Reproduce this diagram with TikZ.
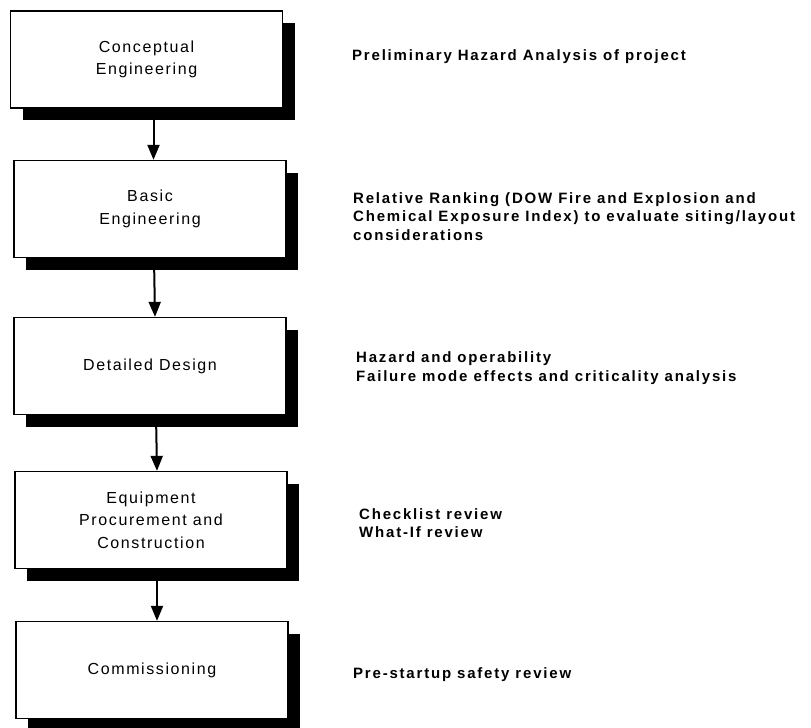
\documentclass[tikz,border=0pt]{standalone}
\usepackage{fontspec}
\usepackage{tikz}
\usetikzlibrary{shadows,arrows.meta}
\newfontfamily\stagefont[LetterSpace=10]{Liberation Sans}
\newfontfamily\notefont[LetterSpace=12]{Liberation Sans Bold}

\begin{document}
\begin{tikzpicture}[x=1pt, y=-1pt,
  stage/.style={rectangle, draw=black, line width=1.3pt, fill=white,
    minimum width=272pt, minimum height=97pt, align=center,
    font={\stagefont\fontsize{16}{22.5}\selectfont},
    drop shadow={shadow xshift=12pt, shadow yshift=-12pt, fill=black, opacity=1}},
  note/.style={anchor=west, align=left, inner sep=0pt,
    font={\notefont\fontsize{15}{18.5}\selectfont}},
  flow/.style={line width=2pt, -{Triangle[width=12pt,length=15pt]}}]
\useasboundingbox (0,0) rectangle (811,728);

% Project stages
\node[stage] (concept) at (146.5,59.5) {Conceptual\\Engineering};
\node[stage] (basic) at (150,209) {Basic\\Engineering};
\node[stage] (detail) at (150,366) {Detailed Design};
\node[stage] (procure) at (151,520) {Equipment\\Procurement and\\Construction};
\node[stage] (commission) at (152,670) {Commissioning};

% Flow between stages
\draw[flow] ([xshift=7pt]concept.south) -- ([xshift=3.5pt]basic.north);
\draw[flow] ([xshift=4pt]basic.south) -- ([xshift=5pt]detail.north);
\draw[flow] ([xshift=6pt]detail.south) -- ([xshift=6pt]procure.north);
\draw[flow] ([xshift=6pt]procure.south) -- ([xshift=5pt]commission.north);

% Hazard reviews
\node[note] (pha) at (352,57) {Preliminary Hazard Analysis of project};
\node[note] (rank) at (353,216.5) {Relative Ranking (DOW Fire and Explosion and\\Chemical Exposure Index) to evaluate siting/layout\\considerations};
\node[note] (hazop) at (356,368) {Hazard and operability\\Failure mode effects and criticality analysis};
\node[note] (check) at (359,523) {Checklist review\\What-If review};
\node[note] (pssr) at (353,675) {Pre-startup safety review};

\end{tikzpicture}
\end{document}
